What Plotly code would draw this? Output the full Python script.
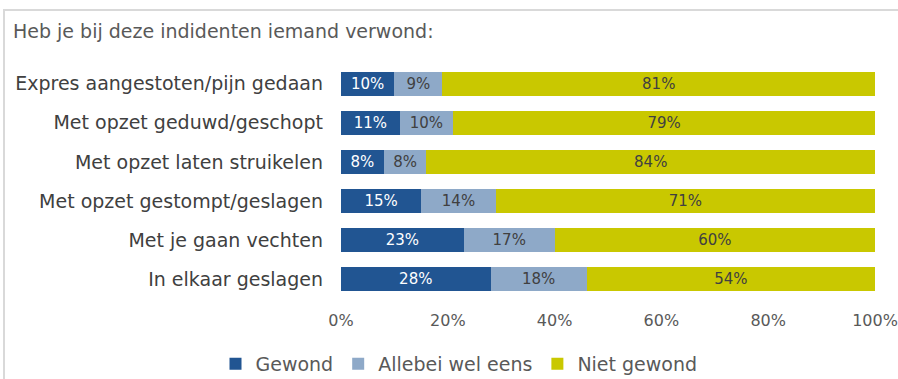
import plotly.graph_objects as go

# Incident types, listed top to bottom
categories = [
    "Expres aangestoten/pijn gedaan",
    "Met opzet geduwd/geschopt",
    "Met opzet laten struikelen",
    "Met opzet gestompt/geslagen",
    "Met je gaan vechten",
    "In elkaar geslagen",
]

# Share of answers per incident type (percent)
gewond = [10, 11, 8, 15, 23, 28]
allebei = [9, 10, 8, 14, 17, 18]
niet_gewond = [81, 79, 84, 71, 60, 54]

x_ticks = [0, 20, 40, 60, 80, 100]
x_tick_labels = ["0%", "20%", "40%", "60%", "80%", "100%"]

series = [
    ("Gewond", gewond, "#215592", "#ffffff"),
    ("Allebei wel eens", allebei, "#8EA9C8", "#404040"),
    ("Niet gewond", niet_gewond, "#C9C800", "#404040"),
]

FONT = "DejaVu Sans"

fig = go.Figure()
for name, values, color, text_color in series:
    fig.add_trace(go.Bar(
        name=name,
        y=categories,
        x=values,
        orientation="h",
        marker=dict(color=color, line=dict(width=0)),
        text=[f"{v}%" for v in values],
        textposition="inside",
        insidetextanchor="middle",
        textangle=0,
        textfont=dict(family=FONT, size=15, color=text_color),
        constraintext="none",
        hoverinfo="skip",
    ))

W, H = 898, 379
L, R, T, B = 341, 23, 64, 80
plot_w = W - L - R
plot_h = H - T - B


def px_x(x):
    return (x - L) / plot_w


def px_y(y):
    return (H - B - y) / plot_h


frame_style = dict(color="#D9D9D9", width=2)

fig.update_layout(
    width=W,
    height=H,
    margin=dict(l=L, r=R, t=T, b=B, autoexpand=False),
    barmode="stack",
    bargap=0.385,
    paper_bgcolor="#ffffff",
    plot_bgcolor="#ffffff",
    font=dict(family=FONT, color="#595959"),
    showlegend=True,
    legend=dict(
        orientation="h",
        x=px_x(459),
        xanchor="center",
        y=px_y(364),
        yanchor="middle",
        font=dict(family=FONT, size=19, color="#595959"),
        traceorder="normal",
        itemclick=False,
    ),
    xaxis=dict(
        range=[0, 100],
        tickvals=x_ticks,
        ticktext=x_tick_labels,
        showgrid=False,
        zeroline=False,
        showline=False,
        automargin=False,
        tickfont=dict(family=FONT, size=16, color="#595959"),
        ticklabelstandoff=10,
        fixedrange=True,
    ),
    yaxis=dict(
        categoryorder="array",
        categoryarray=categories,
        autorange="reversed",
        showgrid=False,
        zeroline=False,
        showline=False,
        automargin=False,
        tickfont=dict(family=FONT, size=19, color="#404040"),
        ticklabelstandoff=17,
        fixedrange=True,
    ),
    # Chart frame: top and left edges (the rest runs off the canvas)
    shapes=[
        dict(type="line", xref="paper", yref="paper",
             x0=px_x(3), x1=px_x(W), y0=px_y(10), y1=px_y(10),
             line=frame_style, layer="below"),
        dict(type="line", xref="paper", yref="paper",
             x0=px_x(4), x1=px_x(4), y0=px_y(9), y1=px_y(H),
             line=frame_style, layer="below"),
    ],
    annotations=[
        dict(
            text="Heb je bij deze indidenten iemand verwond:",
            xref="paper",
            yref="paper",
            x=px_x(11),
            y=px_y(31),
            xanchor="left",
            yanchor="middle",
            showarrow=False,
            font=dict(family=FONT, size=19, color="#595959"),
        )
    ],
)

fig.write_html("out.html", config={"displayModeBar": False})
